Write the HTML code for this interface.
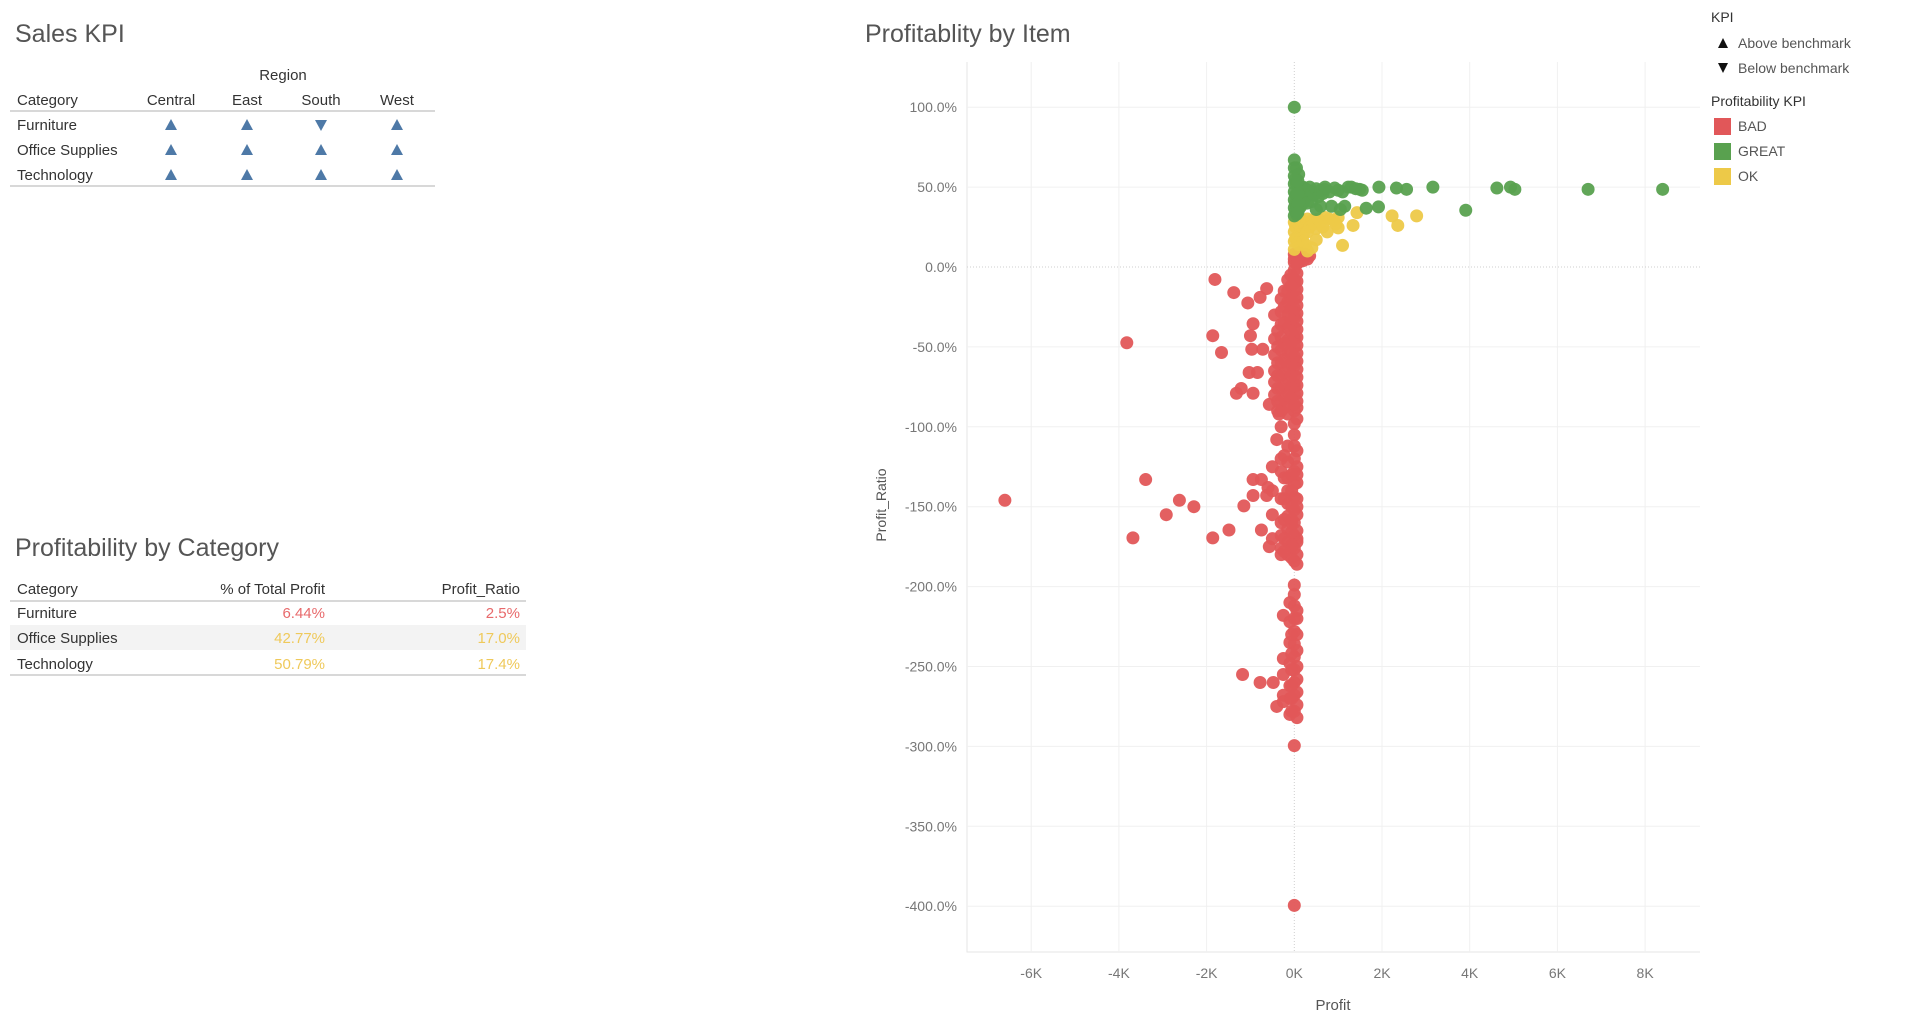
<!DOCTYPE html>
<html><head><meta charset="utf-8"><style>
html,body{margin:0;padding:0;background:#fff;}
svg{display:block;font-family:"Liberation Sans",sans-serif;}
</style></head><body>
<svg id="root" width="1915" height="1023" viewBox="0 0 1915 1023">
<g>
<text x="15" y="42" font-size="25" fill="#555">Sales KPI</text>
<text x="283" y="80" font-size="15" fill="#333" text-anchor="middle">Region</text>
<g font-size="15" fill="#333">
<text x="17" y="105">Category</text>
<text x="171" y="105" text-anchor="middle">Central</text>
<text x="247" y="105" text-anchor="middle">East</text>
<text x="321" y="105" text-anchor="middle">South</text>
<text x="397" y="105" text-anchor="middle">West</text>
<text x="17" y="130">Furniture</text>
<text x="17" y="155">Office Supplies</text>
<text x="17" y="180">Technology</text>
</g>
<line x1="10" y1="111" x2="435" y2="111" stroke="#ccc" stroke-width="1.5"/>
<line x1="10" y1="186" x2="435" y2="186" stroke="#ccc" stroke-width="1.5"/>
<g id="kpiMarks"></g>
</g>
<g>
<text x="15" y="556" font-size="25" fill="#555">Profitability by Category</text>
<rect x="10" y="625" width="516" height="25" fill="#f3f3f3"/>
<g font-size="15" fill="#333">
<text x="17" y="594">Category</text>
<text x="325" y="594" text-anchor="end">% of Total Profit</text>
<text x="520" y="594" text-anchor="end">Profit_Ratio</text>
<text x="17" y="618">Furniture</text>
<text x="17" y="643">Office Supplies</text>
<text x="17" y="669">Technology</text>
</g>
<g font-size="15">
<text x="325" y="618" text-anchor="end" fill="#e8696b">6.44%</text>
<text x="520" y="618" text-anchor="end" fill="#e8696b">2.5%</text>
<text x="325" y="643" text-anchor="end" fill="#efc95a">42.77%</text>
<text x="520" y="643" text-anchor="end" fill="#efc95a">17.0%</text>
<text x="325" y="669" text-anchor="end" fill="#efc95a">50.79%</text>
<text x="520" y="669" text-anchor="end" fill="#efc95a">17.4%</text>
</g>
<line x1="10" y1="601" x2="526" y2="601" stroke="#ccc" stroke-width="1.5"/>
<line x1="10" y1="675" x2="526" y2="675" stroke="#ccc" stroke-width="1.5"/>
</g>
<g>
<text x="865" y="42" font-size="25" fill="#555">Profitablity by Item</text>
<g id="grid"></g>
<g id="dots"></g>
<text x="1333" y="1010" font-size="15" fill="#555" text-anchor="middle">Profit</text>
<text transform="translate(886,505) rotate(-90)" font-size="14" fill="#555" text-anchor="middle">Profit_Ratio</text>
</g>
<g>
<text x="1711" y="22" font-size="14" fill="#333">KPI</text>
<polygon points="1718,48 1728,48 1723,38" fill="#111"/>
<text x="1738" y="48" font-size="14" fill="#555">Above benchmark</text>
<polygon points="1718,63 1728,63 1723,73" fill="#111"/>
<text x="1738" y="73" font-size="14" fill="#555">Below benchmark</text>
<text x="1711" y="106" font-size="14" fill="#333">Profitability KPI</text>
<rect x="1714" y="118" width="17" height="17" fill="#e15759"/>
<text x="1738" y="131" font-size="14" fill="#555">BAD</text>
<rect x="1714" y="143" width="17" height="17" fill="#59a14f"/>
<text x="1738" y="156" font-size="14" fill="#555">GREAT</text>
<rect x="1714" y="168" width="17" height="17" fill="#edc948"/>
<text x="1738" y="181" font-size="14" fill="#555">OK</text>
</g>
</svg>
<script>
// Sales KPI table data
const kpiCategories = ["Furniture","Office Supplies","Technology"];
const kpiRegions = ["Central","East","South","West"];
const kpiAbove = [[1,1,0,1],[1,1,1,1],[1,1,1,1]];

// Scatter data
const xTicks = [-6000,-4000,-2000,0,2000,4000,6000,8000];
const xTickLabels = ["-6K","-4K","-2K","0K","2K","4K","6K","8K"];
const yTicks = [100,50,0,-50,-100,-150,-200,-250,-300,-350,-400];
const yTickLabels = ["100.0%","50.0%","0.0%","-50.0%","-100.0%","-150.0%","-200.0%","-250.0%","-300.0%","-350.0%","-400.0%"];

const greatProfit = [0,0,8400,6700,5030,4930,4620,3160,3910,1920,1640,1930,2560,2330,1490,1230,920,690,0,0,0,0,0,0,0,50,50,50,50,50,100,100,100,100,150,150,150,200,200,200,250,250,300,300,350,400,400,450,500,550,600,650,700,800,850,1000,1100,1300,1400,1550,1150,1050,600,500,30,30,30,30,80,80,80,80];
const greatRatio = [100,67,48.6,48.6,48.6,50,49.4,50,35.5,37.6,36.8,50,48.6,49.4,48.6,50,49.4,48.6,62,57,52,47,42,37,32,62,52,45,38,33,58,48,42,36,50,44,38,50,46,40,49,43,48,40,50,47,41,45,49,44,48,46,50,47,38,48,47,50,49,48,38,36,38,36,55,45,40,35,54,46,40,34];

const okProfit = [2230,2790,2360,1100,1430,1340,1000,0,0,0,0,50,50,50,100,100,100,150,150,200,200,250,300,300,350,400,450,500,550,600,650,700,800,900,950,1000,750,500,400,300,30,30,80,80,200,250];
const okRatio = [32,32,26,13.5,34,26,24.5,28,22,16,11,30,25,18,27,20,14,30,24,28,20,26,30,22,25,29,27,24,30,28,25,31,30,29,27,31,22,17,12,10,25,18,28,15,16,14];

const badProfit = [0,0,50,100,150,250,300,200,350,100,
-1810,-1380,-1060,-630,-780,-3820,-1860,-1660,-940,-1000,-970,-720,-1030,-840,-1320,-1210,-940,-570,
-6600,-3390,-3680,-2920,-2620,-2290,-1860,-1490,-1150,-940,-750,-940,-600,-630,-750,-570,
-1180,-780,-480,-400,0,0,0,
0,0,0,0,0,0,0,0,0,0,0,0,0,0,0,0,0,0,0,0,0,0,
-150,-150,-150,-150,-150,-150,-150,-150,-150,-150,-150,-150,
-300,-300,-300,-300,-300,-300,-300,-300,-300,-300,
-450,-450,-450,-450,-450,-450,
0,0,0,0,0,0,0,0,0,0,0,0,
-150,-150,-150,-150,-150,-150,-150,-150,-150,
-300,-300,-300,-300,-300,-300,-300,
-500,-500,-500,-500,
0,0,0,0,0,0,0,0,0,0,
-100,-100,-100,-100,-100,-100,-100,
-250,-250,-250,-250,-250,
-300,-400,-350,
60,60,60,60,60,60,60,60,60,60,60,60,60,60,60,60,60,60,60,60,
-80,-80,-80,-80,-80,-80,-80,-80,-80,-80,-80,-80,
-230,-230,-230,-230,-230,-230,-230,-230,-230,
-380,-380,-380,-380,-380,-380,-380,
60,60,60,60,60,60,60,60,60,60,60,60,
-60,-60,-60,-60,-60,-60,-60,-60,-60,
-230,-230,-230,-230,-230,-230,
60,60,60,60,60,60,60,60,60,
-60,-60,-60,-60,-60,-60];
const badRatio = [8,3,6,9,7,8,5,4,7,3,
-7.8,-16,-22.5,-13.5,-19,-47.4,-43,-53.5,-35.5,-43,-51.5,-51.5,-66,-66,-79,-76,-79,-86,
-146,-133,-169.5,-155,-146,-150,-169.5,-164.6,-149.5,-133,-133,-143,-138,-143,-164.6,-175,
-255,-260,-260,-275,-299.5,-399.5,-199,
5,-2,-8,-14,-20,-26,-32,-38,-44,-50,-56,-62,-68,-74,-80,-86,-90,-30,-45,-60,-75,-10,
-8,-15,-22,-30,-38,-46,-54,-62,-70,-78,-85,-92,
-20,-28,-36,-44,-52,-60,-68,-76,-84,-90,
-30,-45,-55,-65,-72,-80,
-98,-105,-112,-120,-128,-136,-144,-152,-160,-168,-176,-184,
-112,-122,-132,-140,-148,-156,-164,-172,-180,
-120,-128,-145,-160,-168,-176,-180,
-125,-140,-155,-170,
-205,-212,-220,-228,-236,-244,-252,-260,-268,-278,
-210,-222,-235,-248,-262,-270,-280,
-218,-245,-255,-268,-272,
-100,-108,-92,
2,-4,-9,-14,-19,-24,-29,-34,-39,-44,-49,-54,-59,-64,-69,-74,-79,-84,-88,-95,
-5,-12,-19,-26,-33,-40,-47,-54,-61,-68,-75,-82,
-15,-25,-35,-48,-58,-66,-74,-82,-88,
-40,-50,-60,-68,-76,-84,-90,
-115,-125,-135,-145,-155,-165,-172,-180,-186,-130,-150,-170,
-130,-140,-150,-158,-166,-174,-182,-160,-175,
-118,-132,-145,-158,-170,-178,
-220,-230,-240,-250,-258,-266,-274,-282,-215,
-230,-242,-252,-262,-270,-278];

const X0 = 1294.3, XPER = 87.7/2000, Y0 = 267, YPER = 79.9/50;
const PL = 967, PR = 1700, PT = 62, PB = 952;
function xs(v){ return X0 + v*XPER; }
function ys(v){ return Y0 - v*YPER; }
const NS = "http://www.w3.org/2000/svg";

const grid = document.getElementById('grid');
const axL = document.createElementNS(NS,'path');
axL.setAttribute('d',`M${PL},${PT}V${PB}H${PR}`);
axL.setAttribute('fill','none');axL.setAttribute('stroke','#e6e6e6');


grid.appendChild(axL);
xTicks.forEach((t,i)=>{
  const l = document.createElementNS(NS,'line');
  l.setAttribute('x1',xs(t));l.setAttribute('x2',xs(t));l.setAttribute('y1',PT);l.setAttribute('y2',PB);
  l.setAttribute('stroke', t===0 ? '#cfcfcf' : '#f0f0f0');
  if(t===0) l.setAttribute('stroke-dasharray','1,2');
  
  
  grid.appendChild(l);
  const tx = document.createElementNS(NS,'text');
  tx.setAttribute('x',xs(t));tx.setAttribute('y',978);tx.setAttribute('text-anchor','middle');
  tx.setAttribute('font-size','14');tx.setAttribute('fill','#777');
  tx.textContent = xTickLabels[i];
  
  
  grid.appendChild(tx);
});
yTicks.forEach((t,i)=>{
  const l = document.createElementNS(NS,'line');
  l.setAttribute('x1',PL);l.setAttribute('x2',PR);l.setAttribute('y1',ys(t));l.setAttribute('y2',ys(t));
  l.setAttribute('stroke', t===0 ? '#cfcfcf' : '#f0f0f0');
  if(t===0) l.setAttribute('stroke-dasharray','1,2');
  
  
  grid.appendChild(l);
  const tx = document.createElementNS(NS,'text');
  tx.setAttribute('x',957);tx.setAttribute('y',ys(t)+5);tx.setAttribute('text-anchor','end');
  tx.setAttribute('font-size','14');tx.setAttribute('fill','#777');
  tx.textContent = yTickLabels[i];
  
  
  grid.appendChild(tx);
});

const dots = document.getElementById('dots');
function drawSeries(px, py, color, name){
  px.forEach((p,i)=>{
    const c = document.createElementNS(NS,'circle');
    c.setAttribute('cx',xs(p));c.setAttribute('cy',ys(py[i]));c.setAttribute('r',6.5);
    c.setAttribute('fill',color);c.setAttribute('fill-opacity','0.95');
    
    
    dots.appendChild(c);
  });
}
drawSeries(badProfit, badRatio, '#e15759', 'point-bad');
drawSeries(okProfit, okRatio, '#edc948', 'point-ok');
drawSeries(greatProfit, greatRatio, '#59a14f', 'point-great');

const kpi = document.getElementById('kpiMarks');
const colX = [171,247,321,397], rowY = [125,150,175];
kpiCategories.forEach((c,r)=>{
  kpiRegions.forEach((g,k)=>{
    const p = document.createElementNS(NS,'polygon');
    const x = colX[k], y = rowY[r];
    const pts = kpiAbove[r][k] ? [[x-6,y+5],[x+6,y+5],[x,y-6]] : [[x-6,y-5],[x+6,y-5],[x,y+6]];
    p.setAttribute('points', pts.map(q=>q.join(',')).join(' '));
    p.setAttribute('fill','#4e79a7');
    
    
    kpi.appendChild(p);
  });
});
</script>
</body></html>
